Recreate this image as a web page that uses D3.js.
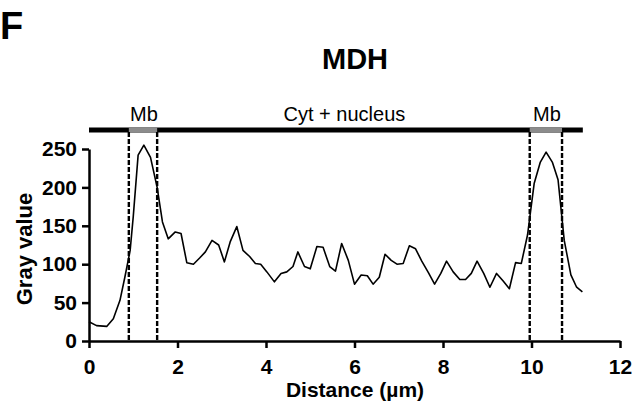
<!DOCTYPE html>
<html>
<head>
<meta charset="utf-8">
<script src="https://d3js.org/d3.v7.min.js"></script>
<style>
  body { margin: 0; background: #fff; }
  text { font-family: "Liberation Sans", Arial, sans-serif; }
</style>
</head>
<body>
<div id="chart"></div>
<script>
// profile
var distance = [0, 0.17, 0.40, 0.55, 0.70, 0.81, 0.93, 1.0, 1.11, 1.24, 1.39, 1.54, 1.66, 1.79, 1.95, 2.08,
  2.21, 2.36, 2.5, 2.63, 2.78, 2.93, 3.06, 3.19, 3.34, 3.48, 3.63, 3.76, 3.88, 4.02, 4.19, 4.34, 4.47,
  4.61, 4.72, 4.87, 5.0, 5.15, 5.29, 5.44, 5.57, 5.71, 5.86, 6.0, 6.15, 6.29, 6.42, 6.56, 6.69, 6.83,
  6.96, 7.10, 7.24, 7.38, 7.52, 7.67, 7.81, 7.95, 8.08, 8.23, 8.38, 8.51, 8.64, 8.77, 8.92, 9.06, 9.21,
  9.36, 9.50, 9.64, 9.77, 9.91, 10.06, 10.20, 10.33, 10.47, 10.60, 10.74, 10.89, 11.02, 11.15];
var gray = [25, 20, 19, 29, 53, 83, 118, 162, 242, 255, 239, 200, 155, 133, 142, 140,
  102, 100, 108, 116, 131, 125, 103, 129, 149, 118, 110, 101, 100, 90, 77, 88, 90,
  97, 116, 97, 94, 123, 122, 97, 91, 127, 105, 74, 86, 85, 74, 83, 113, 105,
  100, 101, 124, 120, 104, 89, 74, 88, 104, 90, 80, 80, 88, 104, 88, 70, 88,
  78, 68, 102, 101, 138, 205, 233, 246, 233, 210, 131, 86, 70, 64];

var xTicks = [0, 2, 4, 6, 8, 10, 12];
var yTicks = [0, 50, 100, 150, 200, 250];

// compartments on the top bar
var regions = ["Mb", "Cyt + nucleus", "Mb"];
var regionStart = [0.9, 1.54, 9.96];
var regionEnd = [1.54, 9.96, 10.69];
var barEnd = 11.16;

var width = 634, height = 405;
var margins = {top: 149, right: 14, bottom: 64, left: 89};

var svg = d3.select("#chart").append("svg")
    .attr("width", width)
    .attr("height", height);

var x = d3.scaleLinear().domain([0, 12]).range([margins.left, width - margins.right]);
var y = d3.scaleLinear().domain([0, 250]).range([height - margins.bottom, margins.top]);

// panel letter + title
svg.append("text")
    .attr("x", 0).attr("y", 39)
    .style("font-size", "38px").style("font-weight", "bold")
    .text("F");

svg.append("text")
    .attr("x", 355).attr("y", 69)
    .style("text-anchor", "middle")
    .style("font-size", "29px").style("font-weight", "bold")
    .text("MDH");

// top bar
var barY = 130;
svg.append("line")
    .attr("x1", x(0)).attr("x2", x(barEnd))
    .attr("y1", barY).attr("y2", barY)
    .style("stroke", "#000").style("stroke-width", 5);

// gray membrane pieces
[0, 2].forEach(function(i){
    svg.append("line")
        .attr("x1", x(regionStart[i])).attr("x2", x(regionEnd[i]))
        .attr("y1", barY).attr("y2", barY)
        .style("stroke", "#8c8c8c").style("stroke-width", 5);
});

svg.selectAll(".region")
    .data(regions)
    .enter().append("text")
    .attr("class", "region")
    .attr("x", function(d, i){ return x((regionStart[i] + regionEnd[i]) / 2) + 1; })
    .attr("y", 121)
    .style("text-anchor", "middle")
    .style("font-size", "20px")
    .text(function(d){ return d; });

// dashed borders
var borders = [regionStart[0], regionEnd[0], regionStart[2], regionEnd[2]];
svg.selectAll(".border")
    .data(borders)
    .enter().append("line")
    .attr("class", "border")
    .attr("x1", function(d){ return x(d); })
    .attr("x2", function(d){ return x(d); })
    .attr("y1", barY + 2)
    .attr("y2", y(0))
    .style("stroke", "#000")
    .style("stroke-width", 2.4)
    .style("stroke-dasharray", "5,2");

// axes
var xAxis = d3.axisBottom(x).tickValues(xTicks).tickSize(7).tickPadding(11).tickSizeOuter(0);
var yAxis = d3.axisLeft(y).tickValues(yTicks).tickSize(7).tickPadding(5).tickSizeOuter(0);

var xAA = svg.append("g")
    .attr("transform", "translate(0," + y(0) + ")")
    .call(xAxis);

var yAA = svg.append("g")
    .attr("transform", "translate(" + x(0) + ",0)")
    .call(yAxis);

[xAA, yAA].forEach(function(a){
    a.selectAll("path, line").style("stroke", "#000").style("stroke-width", 2.5);
    a.selectAll("text")
        .style("font-family", "'Liberation Sans', Arial, sans-serif")
        .style("font-size", "21px").style("font-weight", "bold")
        .style("fill", "#000");
});

svg.append("text")
    .attr("x", 355).attr("y", 397)
    .style("text-anchor", "middle")
    .style("font-size", "21px").style("font-weight", "bold")
    .text("Distance (\u00b5m)");

svg.append("text")
    .attr("transform", "translate(32,249) rotate(-90)")
    .style("text-anchor", "middle")
    .style("font-size", "22px").style("font-weight", "bold")
    .text("Gray value");

// profile line
var line = d3.line()
    .x(function(d){ return x(d[0]); })
    .y(function(d){ return y(d[1]); });

svg.append("path")
    .datum(d3.zip(distance, gray))
    .attr("d", line)
    .style("fill", "none")
    .style("stroke", "#000")
    .style("stroke-width", 1.6)
    .style("stroke-linejoin", "round");
</script>
</body>
</html>
